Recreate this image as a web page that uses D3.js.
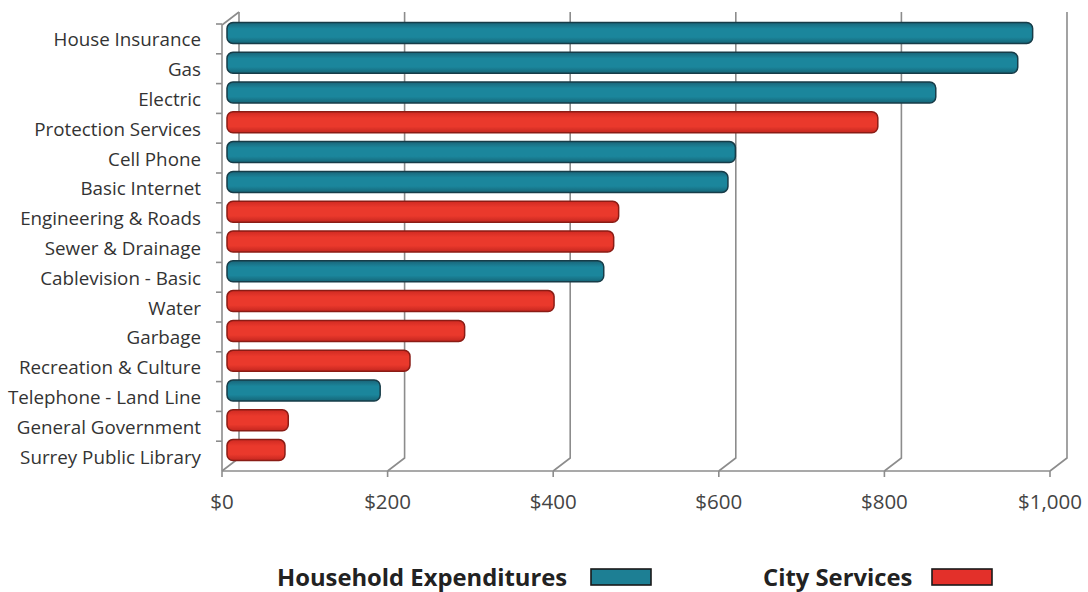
<!DOCTYPE html>
<html>
<head>
<meta charset="utf-8">
<script src="https://cdn.jsdelivr.net/npm/d3@7"></script>
<style>
  html, body { margin: 0; padding: 0; background: #fff; }
  svg { display: block; }
</style>
</head>
<body>
<svg id="chart" width="1088" height="592"></svg>
<script>
// Annual cost per household, ordered from largest to smallest
const categories = [
  "House Insurance", "Gas", "Electric", "Protection Services", "Cell Phone",
  "Basic Internet", "Engineering & Roads", "Sewer & Drainage", "Cablevision - Basic",
  "Water", "Garbage", "Recreation & Culture", "Telephone - Land Line",
  "General Government", "Surrey Public Library"
];
const values = [973, 955, 856, 786, 614, 605, 473, 467, 455, 395, 287, 221, 185, 74, 70];
const seriesOf = [
  "household", "household", "household", "city", "household",
  "household", "city", "city", "household",
  "city", "city", "city", "household",
  "city", "city"
];
const seriesNames = ["Household Expenditures", "City Services"];
const seriesKeys = ["household", "city"];
const xTicks = [0, 200, 400, 600, 800, 1000];

const svg = d3.select("#chart");
const font = "'Open Sans', sans-serif";

const x = d3.scaleLinear().domain([0, 1000]).range([222, 1050]);
const y = d3.scaleBand().domain(categories).range([24, 471]).paddingInner(0).paddingOuter(0);

// depth offset of the back wall
const DX = 17, DY = -13;
const floorY = 471;

// gradients for the tubular bars
const defs = svg.append("defs");
const palette = {
  household: { top: "#1a6478", mid: "#1b869c", bot: "#156577", stroke: "#173c48", swatch: "#1d7f94" },
  city:      { top: "#cf2a22", mid: "#ea392c", bot: "#c4261f", stroke: "#8a1c15", swatch: "#e3302a" }
};
seriesKeys.forEach(k => {
  const g = defs.append("linearGradient").attr("id", "grad-" + k)
    .attr("x1", 0).attr("y1", 0).attr("x2", 0).attr("y2", 1);
  g.append("stop").attr("offset", "0%").attr("stop-color", palette[k].top);
  g.append("stop").attr("offset", "30%").attr("stop-color", palette[k].mid);
  g.append("stop").attr("offset", "70%").attr("stop-color", palette[k].mid);
  g.append("stop").attr("offset", "100%").attr("stop-color", palette[k].bot);
});

const gridColor = "#8c8c8c";
const grid = svg.append("g");

// gridlines on the back wall, folding down across the floor
grid.selectAll("path.grid").data(xTicks).join("path")
  .attr("class", "grid")
  .attr("fill", "none")
  .attr("stroke", gridColor)
  .attr("stroke-width", 1.6)
  .attr("d", t => `M${x(t)},${floorY} L${x(t) + DX},${floorY + DY} L${x(t) + DX},${floorY + DY - 446}`);

// front floor edge with tick marks
grid.append("path").attr("fill", "none").attr("stroke", gridColor).attr("stroke-width", 1.6)
  .attr("d", `M${x(0)},${floorY} L${x(1000)},${floorY}`);
grid.selectAll("line.xtick").data(xTicks).join("line")
  .attr("class", "xtick")
  .attr("x1", t => x(t)).attr("x2", t => x(t))
  .attr("y1", floorY).attr("y2", floorY + 6)
  .attr("stroke", gridColor).attr("stroke-width", 1.6);

// left wall front edge and category ticks
grid.append("path").attr("fill", "none").attr("stroke", gridColor).attr("stroke-width", 1.6)
  .attr("d", `M${x(0)},${floorY} L${x(0)},${y.range()[0] + 1} L${x(0) + DX},${y.range()[0] + 1 + DY}`);
const boundaries = categories.map(c => y(c));
grid.selectAll("line.ytick").data(boundaries).join("line")
  .attr("class", "ytick")
  .attr("x1", x(0) - 6).attr("x2", x(0))
  .attr("y1", d => d).attr("y2", d => d)
  .attr("stroke", gridColor).attr("stroke-width", 1.6);

// bars, set back slightly into the depth of the chart
const barDX = 5, barDY = -7, barH = 21;
const data = categories.map((c, i) => ({ cat: c, value: values[i], series: seriesOf[i] }));
const bars = svg.append("g");
bars.selectAll("rect.bar").data(data).join("rect")
  .attr("class", "bar")
  .attr("x", x(0) + barDX)
  .attr("y", d => y(d.cat) + y.bandwidth() / 2 + barDY - barH / 2 + 1)
  .attr("width", d => x(d.value) - x(0))
  .attr("height", barH)
  .attr("rx", 6).attr("ry", 6)
  .attr("fill", d => `url(#grad-${d.series})`)
  .attr("stroke", d => palette[d.series].stroke)
  .attr("stroke-width", 1.5);

// category labels
svg.append("g").selectAll("text").data(categories).join("text")
  .attr("x", 201)
  .attr("y", c => y(c) + y.bandwidth() / 2 + 0.5)
  .attr("text-anchor", "end")
  .attr("dominant-baseline", "central")
  .attr("font-family", font)
  .attr("font-size", 18.8)
  .attr("fill", "#333")
  .text(c => c);

// value axis labels
const fmt = d3.format("$,");
svg.append("g").selectAll("text").data(xTicks).join("text")
  .attr("x", t => x(t))
  .attr("y", 501)
  .attr("text-anchor", "middle")
  .attr("dominant-baseline", "central")
  .attr("font-family", font)
  .attr("font-size", 20.5)
  .attr("fill", "#444")
  .text(t => fmt(t));

// legend
const legend = [
  { name: seriesNames[0], key: seriesKeys[0], textX: 277, boxX: 591 },
  { name: seriesNames[1], key: seriesKeys[1], textX: 763, boxX: 932 }
];
const lg = svg.append("g");
lg.selectAll("text").data(legend).join("text")
  .attr("x", d => d.textX)
  .attr("y", 577)
  .attr("dominant-baseline", "central")
  .attr("font-family", font)
  .attr("font-weight", "bold")
  .attr("font-size", 23.8)
  .attr("fill", "#222")
  .text(d => d.name);
lg.selectAll("rect").data(legend).join("rect")
  .attr("x", d => d.boxX)
  .attr("y", 569)
  .attr("width", 60)
  .attr("height", 16)
  .attr("fill", d => palette[d.key].swatch)
  .attr("stroke", "#1a1a1a")
  .attr("stroke-width", 1.6);
</script>
</body>
</html>
